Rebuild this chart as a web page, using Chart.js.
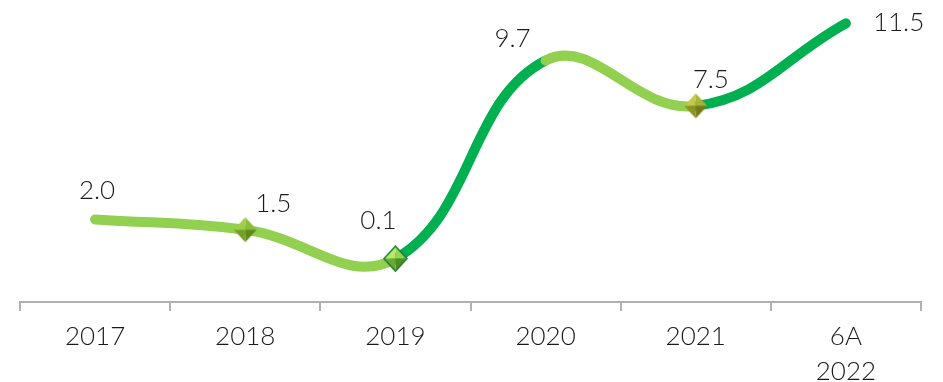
<!DOCTYPE html>
<html>
<head>
<meta charset="utf-8">
<style>
  html, body { margin: 0; padding: 0; background: #fff; }
  #wrap { width: 943px; height: 382px; }
</style>
</head>
<body>
<div id="wrap"><canvas id="grafico"></canvas></div>

<script src="https://cdn.jsdelivr.net/npm/chart.js"></script>

<script>
  const anos = ["2017", "2018", "2019", "2020", "2021", ["6A", "2022"]];
  const valores = [2.0, 1.5, 0.1, 9.7, 7.5, 11.5];
  const rotulos = ["2.0", "1.5", "0.1", "9.7", "7.5", "11.5"];
  // where each value label sits relative to its point
  const posRotulo = ["top", "topRight", "topLeft", "topLeft", "top", "right"];

  const VERDE_ESCURO = "#00B050";
  const VERDE_CLARO = "#92D050";

  // small pyramid-like diamond used as marker
  function losango(cores, borda) {
    const w = 25, h = 27;
    const c = document.createElement("canvas");
    c.width = w; c.height = h;
    const g = c.getContext("2d");
    const cx = w / 2, cy = h / 2;
    const pts = [[cx, 1], [w - 1, cy], [cx, h - 1], [1, cy]];
    for (let i = 0; i < 4; i++) {
      const a = pts[(i + 3) % 4], b = pts[i];
      g.beginPath();
      g.moveTo(cx, cy); g.lineTo(a[0], a[1]); g.lineTo(b[0], b[1]);
      g.closePath();
      g.fillStyle = cores[i];
      g.fill();
    }
    if (borda) {
      g.beginPath();
      g.moveTo(pts[0][0], pts[0][1]);
      pts.slice(1).forEach(p => g.lineTo(p[0], p[1]));
      g.closePath();
      g.strokeStyle = borda;
      g.lineWidth = 1.5;
      g.stroke();
    }
    return c;
  }

  const marcaOliva = losango(["#9fcf4a", "#8dbb3a", "#5f8a1c", "#74a02a"]);
  const marcaVerde = losango(["#b6ea6a", "#98d250", "#4f8e22", "#6aa830"], "#1f7a34");
  const marcaAmarela = losango(["#c2c84a", "#aab238", "#767a14", "#8c9222"]);

  const rotulosPlugin = {
    id: "rotulos",
    afterDatasetsDraw(chart) {
      const ctx = chart.ctx;
      const meta = chart.getDatasetMeta(0);
      ctx.save();
      ctx.font = "300 26px Lato";
      ctx.fillStyle = "#1a1a1a";
      ctx.textBaseline = "middle";
      meta.data.forEach((pt, i) => {
        let x = pt.x, y = pt.y;
        ctx.textAlign = "center";
        switch (posRotulo[i]) {
          case "top": x += 2; y -= 29; break;
          case "topRight": x += 28; y -= 26; break;
          case "topLeft": x -= 17; y -= 38; break;
          case "right": ctx.textAlign = "left"; x += 27; y -= 1; break;
        }
        if (i === 3) { x -= 16; y += 16; }
        if (i === 4) { x += 13; y += 3; }
        ctx.fillText(rotulos[i], x, y);
      });
      ctx.restore();
    }
  };

  new Chart(document.getElementById("grafico"), {
    type: "line",
    data: {
      labels: anos,
      datasets: [{
        data: valores,
        borderWidth: 10,
        borderCapStyle: "round",
        borderJoinStyle: "round",
        tension: 0.42,
        fill: false,
        segment: {
          borderColor: c => c.p1.parsed.y > c.p0.parsed.y ? VERDE_ESCURO : VERDE_CLARO
        },
        borderColor: VERDE_CLARO,
        pointStyle: [false, marcaOliva, marcaVerde, false, marcaAmarela, false],
        pointRadius: [0, 12, 12, 0, 12, 0],
        pointHoverRadius: [0, 12, 12, 0, 12, 0]
      }]
    },
    options: {
      responsive: true,
      maintainAspectRatio: false,
      animation: false,
      events: [],
      clip: false,
      layout: { padding: { left: 20, right: 22, top: 13, bottom: 0 } },
      plugins: {
        legend: { display: false },
        tooltip: { enabled: false }
      },
      scales: {
        x: {
          offset: true,
          grid: {
            offset: true,
            drawOnChartArea: false,
            drawTicks: true,
            tickLength: 9,
            color: "#b0b0b0",
            lineWidth: 2
          },
          border: { color: "#b0b0b0", width: 2 },
          ticks: {
            color: "#1a1a1a",
            font: { family: "Lato", size: 26, weight: 300, lineHeight: 1.35 },
            padding: 8,
            maxRotation: 0,
            autoSkip: false
          },
          afterFit(s) { s.height = 80; }
        },
        y: {
          display: false,
          min: -2,
          max: 12
        }
      }
    },
    plugins: [rotulosPlugin]
  });
</script>
</body>
</html>
